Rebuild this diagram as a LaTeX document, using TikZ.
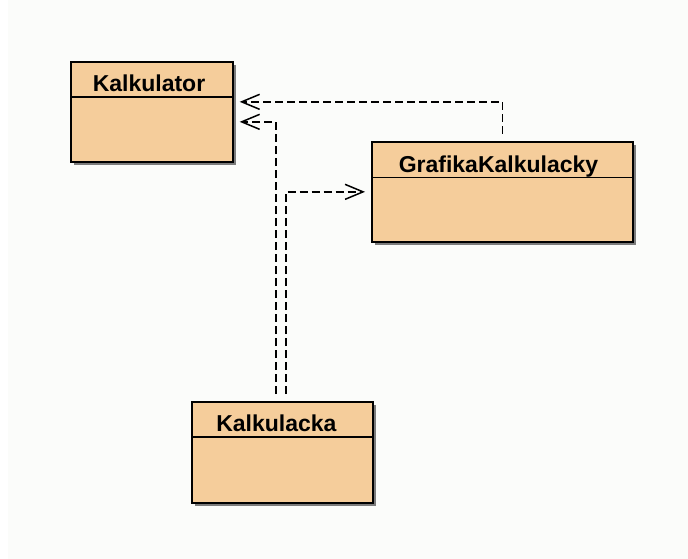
\documentclass[tikz,border=0pt]{standalone}
\usepackage{fontspec}
\setmainfont{Liberation Sans}
\usetikzlibrary{arrows.meta,calc,shadows}
\definecolor{boxfill}{RGB}{245,205,155}
\definecolor{bgcol}{RGB}{251,252,250}
\begin{document}
\begin{tikzpicture}[x=1pt,y=-1pt,
  cls/.style={draw=black,line width=1.7pt,fill=boxfill,anchor=north west,inner sep=0pt,
    drop shadow={shadow xshift=3.5pt,shadow yshift=-3.5pt,fill=black!60,opacity=0.85}},
  sep/.style={draw=black,line width=1.3pt},
  title/.style={anchor=base,inner sep=0pt,font=\bfseries\fontsize{23}{27}\selectfont},
  dep/.style={draw=black,line width=1.5pt,dash pattern=on 8pt off 4pt,
    -{Straight Barb[length=18pt,width=15pt,line width=1.5pt]},
    shorten <=7pt,shorten >=6pt}]
\useasboundingbox (0,0) rectangle (688,559);
\fill[white] (0,0) rectangle (688,559);
\fill[bgcol] (8,0) rectangle (688,559);
% boxes
\node[cls,minimum width=162pt,minimum height=100pt] (K) at (70,61) {};
\node[cls,minimum width=261pt,minimum height=100pt] (G) at (371,141) {};
\node[cls,minimum width=181pt,minimum height=101pt] (C) at (191,401) {};
% separators
\draw[sep] ($(K.north west)+(0,36)$) -- ($(K.north east)+(0,36)$);
\draw[sep] ($(G.north west)+(0,36.5)$) -- ($(G.north east)+(0,36.5)$);
\draw[sep] ($(C.north west)+(0,36)$) -- ($(C.north east)+(0,36)$);
% titles
\node[title] (Kt) at (149,91.7) {Kalkulator};
\node[title] (Gt) at (498.5,172.7) {GrafikaKalkulacky};
\node[title] (Ct) at (276.4,431.7) {Kalkulacka};
% dependencies
\draw[dep] (G.north) |- ([yshift=10pt]K.east);
\draw[dep] ([xshift=-6.5pt]C.north) |- ([yshift=-10pt]K.east);
\draw[dep] ([xshift=3.5pt]C.north) |- (G.west);
\end{tikzpicture}
\end{document}
